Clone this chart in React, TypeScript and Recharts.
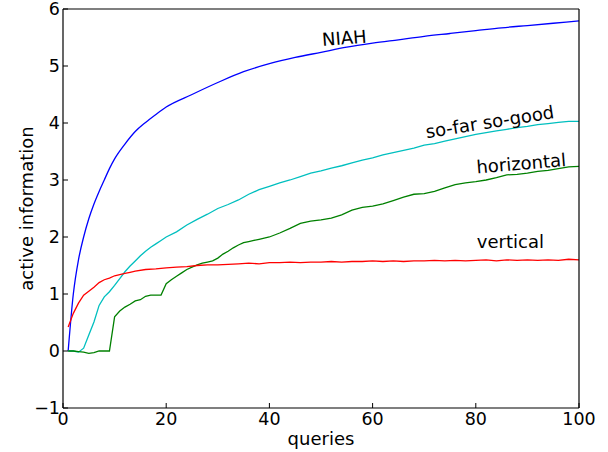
import { LineChart, Line, XAxis, YAxis, ReferenceDot } from 'recharts';

const FONT = 'DejaVu Sans';

// x positions (queries) and active information
const niahX = [1, 2, 3, 4, 5, 6, 7, 8, 9, 10, 12, 14, 16, 18, 20, 25, 30, 35, 40, 45, 50, 55, 60, 65, 70, 75, 80, 85, 90, 95, 100];
const niahY = [0, 1.0, 1.6, 2.0, 2.32, 2.58, 2.8, 3.0, 3.2, 3.37, 3.63, 3.85, 4.01, 4.15, 4.28, 4.5, 4.71, 4.9, 5.04, 5.15, 5.24, 5.33, 5.4, 5.46, 5.52, 5.57, 5.62, 5.67, 5.71, 5.75, 5.79];

const sofarX = [1, 2, 3, 4, 5, 6, 7, 8, 9, 10, 11, 12, 13, 14, 15, 16, 17, 18, 19, 20, 22, 24, 26, 28, 30, 32, 34, 36, 38, 40, 42, 44, 46, 48, 50, 52, 54, 56, 58, 60, 62, 64, 66, 68, 70, 72, 74, 76, 78, 80, 82, 84, 86, 88, 90, 92, 94, 96, 98, 100];
const sofarY = [0, 0, -0.02, 0.05, 0.28, 0.51, 0.8, 0.95, 1.04, 1.15, 1.27, 1.39, 1.49, 1.58, 1.67, 1.75, 1.82, 1.88, 1.94, 2.0, 2.09, 2.21, 2.31, 2.4, 2.5, 2.57, 2.65, 2.75, 2.83, 2.89, 2.95, 3.0, 3.06, 3.12, 3.16, 3.21, 3.25, 3.3, 3.35, 3.39, 3.44, 3.48, 3.52, 3.56, 3.61, 3.64, 3.68, 3.72, 3.76, 3.8, 3.83, 3.86, 3.89, 3.92, 3.94, 3.97, 3.99, 4.01, 4.03, 4.03];

const horizX = [1, 2, 3, 4, 5, 6, 7, 8, 9, 10, 11, 12, 13, 14, 15, 16, 17, 18, 19, 20, 21, 22, 23, 24, 25, 26, 27, 28, 29, 30, 31, 32, 33, 34, 35, 36, 37, 38, 39, 40, 42, 44, 46, 48, 50, 52, 54, 56, 58, 60, 62, 64, 66, 68, 70, 72, 74, 76, 78, 80, 82, 84, 86, 88, 90, 92, 94, 96, 98, 100];
const horizY = [0, 0, -0.01, -0.02, -0.04, -0.03, 0, 0, 0, 0.6, 0.7, 0.77, 0.82, 0.88, 0.9, 0.96, 0.98, 0.98, 0.98, 1.18, 1.25, 1.31, 1.37, 1.43, 1.47, 1.51, 1.54, 1.56, 1.58, 1.63, 1.7, 1.75, 1.81, 1.86, 1.9, 1.92, 1.94, 1.96, 1.98, 2.0, 2.07, 2.15, 2.24, 2.28, 2.3, 2.33, 2.39, 2.47, 2.52, 2.54, 2.58, 2.64, 2.7, 2.75, 2.76, 2.8, 2.86, 2.92, 2.95, 2.97, 3.0, 3.04, 3.09, 3.1, 3.12, 3.15, 3.17, 3.2, 3.23, 3.24];

const vertX = [1, 2, 3, 4, 5, 6, 7, 8, 9, 10, 11, 12, 13, 14, 16, 18, 20, 22, 24, 26, 28, 30, 32, 34, 36, 38, 40, 42, 44, 46, 48, 50, 52, 54, 56, 58, 60, 62, 64, 66, 68, 70, 72, 74, 76, 78, 80, 82, 84, 86, 88, 90, 92, 94, 96, 98, 100];
const vertY = [0.42, 0.66, 0.84, 0.98, 1.05, 1.12, 1.2, 1.25, 1.28, 1.32, 1.34, 1.36, 1.38, 1.4, 1.43, 1.44, 1.46, 1.47, 1.48, 1.5, 1.51, 1.51, 1.52, 1.53, 1.54, 1.53, 1.55, 1.55, 1.56, 1.55, 1.56, 1.56, 1.57, 1.56, 1.57, 1.57, 1.58, 1.57, 1.58, 1.57, 1.58, 1.58, 1.59, 1.58, 1.59, 1.58, 1.59, 1.6, 1.58, 1.6, 1.59, 1.6, 1.59, 1.6, 1.59, 1.61, 1.6];

const xTicks = [0, 20, 40, 60, 80, 100];
const yTicks = [-1, 0, 1, 2, 3, 4, 5, 6];

// curve annotations: text, anchor (data coords), rotation
const annotations = [
  { text: 'NIAH', x: 54.6, y: 5.38, angle: -4.5 },
  { text: 'so-far so-good', x: 82.9, y: 3.91, angle: -9 },
  { text: 'horizontal', x: 88.9, y: 3.18, angle: -4.7 },
  { text: 'vertical', x: 86.7, y: 1.8, angle: 0 },
];

const zip = (xs: number[], ys: number[]) => xs.map((x, i) => ({ x, y: ys[i] }));

const series = [
  { name: 'NIAH', color: '#0000ff', data: zip(niahX, niahY), curve: 'monotone' },
  { name: 'so-far so-good', color: '#00bfbf', data: zip(sofarX, sofarY), curve: 'linear' },
  { name: 'horizontal', color: '#008000', data: zip(horizX, horizY), curve: 'linear' },
  { name: 'vertical', color: '#ff0000', data: zip(vertX, vertY), curve: 'linear' },
];

const tickStyle = { fill: '#000', fontSize: 17.5, fontFamily: FONT };
const axisLine = { stroke: '#000', strokeWidth: 1.2 };
const fmtY = (v: number) => (v < 0 ? '\u2212' + Math.abs(v) : String(v));

export default function App() {
  return (
    <div style={{ position: 'absolute', left: 0, top: 0 }}>
      <LineChart width={608} height={452} margin={{ top: 8, right: 28, bottom: 0, left: 0 }}>
        <XAxis
          dataKey="x"
          type="number"
          domain={[0, 100]}
          ticks={xTicks}
          interval={0}
          height={44}
          tickSize={-5}
          tickMargin={10}
          tick={tickStyle}
          axisLine={axisLine}
          tickLine={{ stroke: '#000' }}
          label={{
            content: (p: any) => (
              <text x={p.viewBox.x + p.viewBox.width / 2} y={445} textAnchor="middle" fontSize={18} fontFamily={FONT} fill="#000">
                queries
              </text>
            ),
          }}
        />
        <XAxis
          xAxisId="top"
          orientation="top"
          type="number"
          domain={[0, 100]}
          ticks={xTicks}
          interval={0}
          height={1}
          tickSize={-5}
          tickFormatter={() => ''}
          axisLine={axisLine}
          tickLine={{ stroke: '#000' }}
        />
        <YAxis
          type="number"
          domain={[-1, 6]}
          ticks={yTicks}
          interval={0}
          width={63}
          tickSize={-5}
          tickMargin={8}
          tick={tickStyle}
          tickFormatter={fmtY}
          axisLine={axisLine}
          tickLine={{ stroke: '#000' }}
          label={{
            content: (p: any) => {
              const cy = p.viewBox.y + p.viewBox.height / 2;
              return (
                <text x={33} y={cy} transform={`rotate(-90 33 ${cy})`} textAnchor="middle" fontSize={18} fontFamily={FONT} fill="#000">
                  active information
                </text>
              );
            },
          }}
        />
        <YAxis
          yAxisId="right"
          orientation="right"
          type="number"
          domain={[-1, 6]}
          ticks={yTicks}
          interval={0}
          width={1}
          tickSize={-5}
          tickFormatter={() => ''}
          axisLine={axisLine}
          tickLine={{ stroke: '#000' }}
        />
        {series.map((s) => (
          <Line
            key={s.name}
            data={s.data}
            dataKey="y"
            type={s.curve as any}
            stroke={s.color}
            strokeWidth={1.3}
            dot={false}
            isAnimationActive={false}
          />
        ))}
        {annotations.map((a) => (
          <ReferenceDot
            key={a.text}
            x={a.x}
            y={a.y}
            r={0}
            fill="none"
            stroke="none"
            label={{
              content: (p: any) => {
                const cx = p.viewBox.x + (p.viewBox.width || 0) / 2;
                const cy = p.viewBox.y + (p.viewBox.height || 0) / 2;
                return (
                  <text x={cx} y={cy} transform={`rotate(${a.angle} ${cx} ${cy})`} textAnchor="middle" fontSize={18} fontFamily={FONT} fill="#000">
                    {a.text}
                  </text>
                );
              },
            }}
          />
        ))}
      </LineChart>
    </div>
  );
}
